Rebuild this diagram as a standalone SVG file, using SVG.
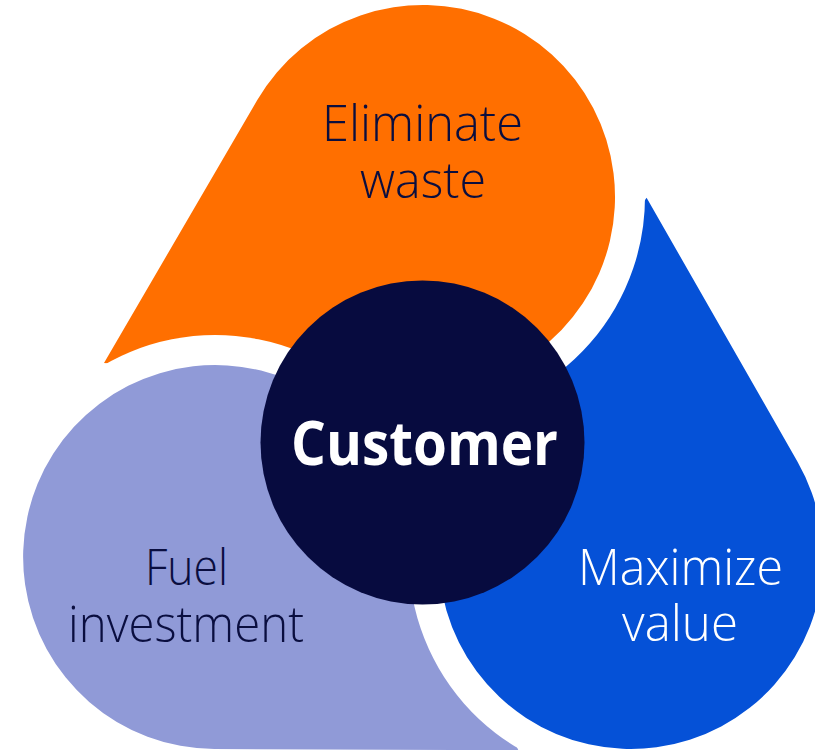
<svg xmlns="http://www.w3.org/2000/svg" xmlns:xlink="http://www.w3.org/1999/xlink" width="815" height="750" viewBox="0 0 815 750">
<style>
.orange{fill:#FF6F00}
.blue{fill:#0551D7}
.lav{fill:#909AD7}
.hub{fill:#070B3F}
.lbl{font-family:"Open Sans","Noto Sans","Liberation Sans",sans-serif;font-weight:300;font-size:50px;text-anchor:middle}
.dark{fill:#0A0E3F}
.light{fill:#FFFFFF}
.hubtxt{font-family:"Open Sans","Noto Sans","Liberation Sans",sans-serif;font-weight:700;font-size:60px;text-anchor:middle;fill:#FFFFFF}
</style>
<defs>
<path id="drop" d="M104,363 L257.13,100.3 A192,192 0 1 1 407,388.3 Z"/>
<mask id="tuck" maskUnits="userSpaceOnUse" x="-800" y="-800" width="2400" height="2400">
<rect x="-800" y="-800" width="2400" height="2400" fill="#FFFFFF"/>
<circle cx="215.15" cy="557" r="222" fill="#000000"/>
</mask>
</defs>
<g id="node-eliminate-waste">
<use xlink:href="#drop" href="#drop" class="orange" mask="url(#tuck)"/>
<text class="lbl dark" x="422.5" y="141" textLength="201" lengthAdjust="spacingAndGlyphs">Eliminate</text>
<text class="lbl dark" x="423" y="198" textLength="126" lengthAdjust="spacingAndGlyphs">waste</text>
</g>
<g id="node-maximize-value">
<g transform="rotate(120 423 437)"><use xlink:href="#drop" href="#drop" class="blue" mask="url(#tuck)"/></g>
<text class="lbl light" x="680.5" y="585" textLength="205" lengthAdjust="spacingAndGlyphs">Maximize</text>
<text class="lbl light" x="680" y="641" textLength="116" lengthAdjust="spacingAndGlyphs">value</text>
</g>
<g id="node-fuel-investment">
<g transform="rotate(240 423 437)"><use xlink:href="#drop" href="#drop" class="lav" mask="url(#tuck)"/></g>
<text class="lbl dark" x="186.5" y="585" textLength="83" lengthAdjust="spacingAndGlyphs">Fuel</text>
<text class="lbl dark" x="186" y="642" textLength="236" lengthAdjust="spacingAndGlyphs">investment</text>
</g>
<g id="connectors"></g>
<g id="node-customer">
<circle class="hub" cx="422.5" cy="442.5" r="162"/>
<text class="hubtxt" x="424.5" y="465" textLength="267" lengthAdjust="spacingAndGlyphs">Customer</text>
</g>
</svg>
